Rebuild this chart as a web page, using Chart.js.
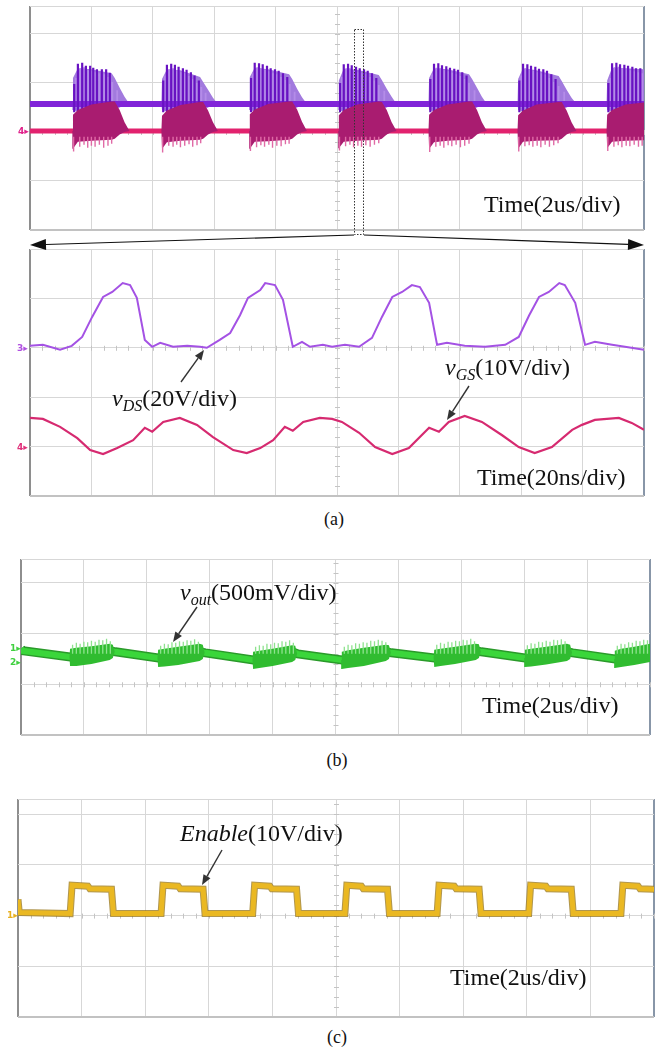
<!DOCTYPE html>
<html>
<head>
<meta charset="utf-8">
<script src="https://cdn.jsdelivr.net/npm/chart.js@4.4.1/dist/chart.umd.min.js"></script>
<style>
  body { margin: 0; background: #fff; }
  #page { position: relative; width: 664px; height: 1051px; overflow: hidden;
          font-family: "Liberation Serif", "Times New Roman", serif; color: #111; }
  canvas { position: absolute; }
  .lbl { position: absolute; font-size: 24px; line-height: 1; white-space: nowrap; transform: translateY(-50%); }
  .lbl i { font-style: italic; }
  .lbl sub { font-size: 16px; font-style: italic; vertical-align: -5px; line-height: 0; }
  .cap { position: absolute; font-size: 18px; line-height: 1; transform: translate(-50%, -50%); }
  .ch { position: absolute; font: bold 9px "DejaVu Sans", sans-serif; line-height: 1; transform: translateY(-50%); }
  svg { position: absolute; left: 0; top: 0; }
</style>
</head>
<body>
<div id="page">
  <canvas id="topChart" width="616" height="226" style="left:29px;top:5px"></canvas>
  <canvas id="zoomChart" width="616" height="249" style="left:29px;top:248px"></canvas>
  <canvas id="outChart" width="631" height="178" style="left:20px;top:558px"></canvas>
  <canvas id="enChart" width="638" height="220" style="left:17px;top:798px"></canvas>

  <div class="lbl" style="left:484px;top:204px">Time(2us/div)</div>
  <div class="lbl" style="left:477px;top:477px">Time(20ns/div)</div>
  <div class="lbl" style="left:112px;top:398px"><i>v</i><sub>DS</sub>(20V/div)</div>
  <div class="lbl" style="left:445px;top:367px"><i>v</i><sub>GS</sub>(10V/div)</div>
  <div class="lbl" style="left:180px;top:592px"><i>v</i><sub>out</sub>(500mV/div)</div>
  <div class="lbl" style="left:482px;top:705px">Time(2us/div)</div>
  <div class="lbl" style="left:180px;top:833px"><i>Enable</i>(10V/div)</div>
  <div class="lbl" style="left:450px;top:977px">Time(2us/div)</div>
  <div class="cap" style="left:334px;top:519px">(a)</div>
  <div class="cap" style="left:337px;top:760px">(b)</div>
  <div class="cap" style="left:337px;top:1037px">(c)</div>

  <div class="ch" style="left:18px;top:131px;color:#e0208a">4▸</div>
  <div class="ch" style="left:17px;top:348px;color:#b050e0">3▸</div>
  <div class="ch" style="left:17px;top:447px;color:#e0307a">4▸</div>
  <div class="ch" style="left:10px;top:648px;color:#40d040">1▸</div>
  <div class="ch" style="left:10px;top:662px;color:#40d040">2▸</div>
  <div class="ch" style="left:7px;top:915px;color:#e8b020">1▸</div>

  <svg id="overlay" width="664" height="1051"></svg>
</div>
<script>
// grid divisions
const gridX = [0, 1, 2, 3, 4, 5, 6, 7, 8, 9, 10];
const yTicksTop = [0, 1, 2, 3, 4, 4.57];
const yTicksZoom = [0, 1, 2, 3, 4, 5];
const yTicksOut = [0, 1, 2, 3, 3.47];
const yTicksEn = [0, 1, 2, 3, 4, 4.3];

// (a) top, 2us/div: burst envelopes (x in div, y in div)
const burstX = [0,
  0.69, 0.70, 0.78, 1.00, 1.33, 1.38, 1.46, 1.54, 1.62,
  2.14, 2.15, 2.23, 2.45, 2.77, 2.82, 2.90, 2.98, 3.06,
  3.57, 3.58, 3.66, 3.88, 4.22, 4.27, 4.35, 4.43, 4.51,
  5.02, 5.03, 5.11, 5.33, 5.68, 5.73, 5.81, 5.89, 5.97,
  6.49, 6.50, 6.58, 6.80, 7.15, 7.20, 7.28, 7.36, 7.44,
  7.94, 7.95, 8.03, 8.25, 8.61, 8.66, 8.74, 8.82, 8.90,
  9.39, 9.40, 9.48, 9.70, 10];
const vdsUpper = [2.57,
  2.57, 3.10, 3.30, 3.28, 3.20, 3.10, 2.90, 2.72, 2.57,
  2.57, 3.08, 3.28, 3.26, 3.12, 3.02, 2.86, 2.70, 2.57,
  2.57, 3.12, 3.31, 3.28, 3.18, 3.08, 2.88, 2.71, 2.57,
  2.57, 3.05, 3.29, 3.27, 3.16, 3.06, 2.88, 2.72, 2.57,
  2.57, 3.10, 3.30, 3.28, 3.18, 3.08, 2.90, 2.72, 2.57,
  2.57, 3.08, 3.30, 3.26, 3.14, 3.04, 2.86, 2.70, 2.57,
  2.57, 3.05, 3.31, 3.30, 3.28];
const vdsLower = [2.57,
  2.57, 2.45, 2.42, 2.42, 2.42, 2.45, 2.50, 2.55, 2.57,
  2.57, 2.45, 2.42, 2.42, 2.43, 2.45, 2.50, 2.55, 2.57,
  2.57, 2.45, 2.42, 2.41, 2.42, 2.45, 2.50, 2.55, 2.57,
  2.57, 2.45, 2.42, 2.42, 2.42, 2.45, 2.50, 2.55, 2.57,
  2.57, 2.45, 2.42, 2.42, 2.43, 2.45, 2.50, 2.55, 2.57,
  2.57, 2.45, 2.42, 2.41, 2.42, 2.45, 2.50, 2.55, 2.57,
  2.57, 2.45, 2.42, 2.42, 2.42];
const vgsUpper = [2.02,
  2.02, 2.35, 2.45, 2.56, 2.62, 2.62, 2.45, 2.20, 2.02,
  2.02, 2.33, 2.44, 2.55, 2.61, 2.61, 2.44, 2.20, 2.02,
  2.02, 2.36, 2.46, 2.57, 2.62, 2.62, 2.46, 2.21, 2.02,
  2.02, 2.34, 2.45, 2.56, 2.62, 2.61, 2.45, 2.20, 2.02,
  2.02, 2.35, 2.45, 2.56, 2.62, 2.62, 2.45, 2.20, 2.02,
  2.02, 2.34, 2.44, 2.56, 2.61, 2.61, 2.44, 2.20, 2.02,
  2.02, 2.35, 2.45, 2.56, 2.60];
const vgsLower = [2.02,
  2.02, 1.66, 1.80, 1.82, 1.84, 1.86, 1.95, 2.00, 2.02,
  2.02, 1.65, 1.79, 1.82, 1.84, 1.86, 1.95, 2.00, 2.02,
  2.02, 1.66, 1.80, 1.81, 1.84, 1.86, 1.95, 2.00, 2.02,
  2.02, 1.67, 1.80, 1.82, 1.84, 1.86, 1.95, 2.00, 2.02,
  2.02, 1.65, 1.79, 1.82, 1.84, 1.86, 1.95, 2.00, 2.02,
  2.02, 1.66, 1.80, 1.82, 1.83, 1.86, 1.95, 2.00, 2.02,
  2.02, 1.67, 1.80, 1.82, 1.83];
const vdsLevel = [[0, 2.57], [10, 2.57]];
const vgsLevel = [[0, 2.02], [10, 2.02]];
const vdsSpikeX = [
  0.72, 0.78, 0.85, 0.91, 0.98, 1.03, 1.09, 1.17, 1.24, 1.30,
  2.17, 2.23, 2.30, 2.36, 2.42, 2.49, 2.55, 2.62, 2.68, 2.75,
  3.60, 3.66, 3.73, 3.79, 3.86, 3.92, 3.99, 4.05, 4.12, 4.19,
  5.05, 5.11, 5.18, 5.24, 5.31, 5.37, 5.44, 5.50, 5.57, 5.64,
  6.52, 6.58, 6.65, 6.71, 6.78, 6.84, 6.91, 6.97, 7.04, 7.11,
  7.97, 8.03, 8.10, 8.16, 8.23, 8.29, 8.36, 8.42, 8.49, 8.56,
  9.42, 9.48, 9.55, 9.61, 9.68, 9.74, 9.81, 9.87, 9.94];
const vdsSpikeTop = [
  2.98, 3.39, 3.41, 3.35, 3.35, 3.31, 3.28, 3.28, 3.28, 3.21,
  3.05, 3.37, 3.39, 3.37, 3.33, 3.30, 3.27, 3.22, 3.15, 3.05,
  3.10, 3.41, 3.40, 3.38, 3.35, 3.30, 3.28, 3.25, 3.20, 3.12,
  3.00, 3.38, 3.39, 3.36, 3.33, 3.30, 3.28, 3.25, 3.20, 3.10,
  3.08, 3.39, 3.40, 3.36, 3.34, 3.31, 3.29, 3.27, 3.22, 3.15,
  3.05, 3.39, 3.38, 3.35, 3.33, 3.29, 3.28, 3.25, 3.18, 3.08,
  3.00, 3.40, 3.41, 3.38, 3.37, 3.35, 3.33, 3.30, 3.30];
// fainter ringing lines between the main spikes
const vdsRingX = [
  0.75, 0.82, 0.88, 0.95, 1.01, 1.06, 1.13, 1.21, 1.27, 1.34, 1.42,
  2.20, 2.27, 2.33, 2.39, 2.46, 2.52, 2.59, 2.65, 2.72, 2.79, 2.86,
  3.63, 3.70, 3.76, 3.83, 3.89, 3.96, 4.02, 4.09, 4.16, 4.23, 4.31,
  5.08, 5.15, 5.21, 5.28, 5.34, 5.41, 5.47, 5.54, 5.61, 5.68, 5.77,
  6.55, 6.62, 6.68, 6.75, 6.81, 6.88, 6.94, 7.01, 7.08, 7.15, 7.24,
  8.00, 8.07, 8.13, 8.20, 8.26, 8.33, 8.39, 8.46, 8.53, 8.61, 8.70,
  9.45, 9.52, 9.58, 9.65, 9.71, 9.78, 9.84, 9.91, 9.97];
const vdsRingTop = [
  3.10, 3.30, 3.32, 3.26, 3.25, 3.22, 3.20, 3.18, 3.12, 3.02, 2.85,
  3.15, 3.28, 3.30, 3.26, 3.22, 3.20, 3.14, 3.08, 3.00, 2.92, 2.80,
  3.20, 3.32, 3.30, 3.27, 3.24, 3.20, 3.18, 3.12, 3.06, 2.98, 2.82,
  3.12, 3.30, 3.30, 3.26, 3.22, 3.20, 3.18, 3.12, 3.05, 2.96, 2.84,
  3.18, 3.31, 3.30, 3.26, 3.24, 3.21, 3.18, 3.14, 3.08, 3.00, 2.85,
  3.15, 3.30, 3.28, 3.25, 3.22, 3.20, 3.17, 3.10, 3.02, 2.94, 2.82,
  3.10, 3.32, 3.33, 3.30, 3.28, 3.26, 3.24, 3.22, 3.20];
const vgsSpikeX = [
  0.71, 0.81, 0.88, 0.94, 1.00, 1.06, 1.13, 1.20, 1.27, 1.33,
  2.16, 2.26, 2.33, 2.39, 2.45, 2.52, 2.59, 2.65, 2.72, 2.78,
  3.59, 3.69, 3.76, 3.82, 3.89, 3.95, 4.02, 4.09, 4.16, 4.22,
  5.04, 5.14, 5.21, 5.27, 5.34, 5.40, 5.47, 5.54, 5.61, 5.68,
  6.51, 6.61, 6.68, 6.74, 6.81, 6.87, 6.94, 7.01, 7.08, 7.15,
  7.96, 8.06, 8.13, 8.19, 8.26, 8.32, 8.39, 8.46, 8.53, 8.60,
  9.41, 9.51, 9.58, 9.64, 9.71, 9.77, 9.84, 9.91, 9.97];
const vgsSpikeLow = [
  1.60, 1.70, 1.74, 1.68, 1.72, 1.70, 1.74, 1.68, 1.72, 1.76,
  1.58, 1.72, 1.70, 1.74, 1.69, 1.72, 1.75, 1.70, 1.73, 1.77,
  1.61, 1.69, 1.73, 1.70, 1.74, 1.68, 1.72, 1.71, 1.75, 1.76,
  1.62, 1.71, 1.74, 1.69, 1.72, 1.70, 1.73, 1.70, 1.74, 1.77,
  1.59, 1.70, 1.72, 1.68, 1.73, 1.71, 1.74, 1.69, 1.72, 1.76,
  1.60, 1.71, 1.73, 1.70, 1.72, 1.69, 1.74, 1.70, 1.73, 1.77,
  1.61, 1.70, 1.73, 1.69, 1.72, 1.71, 1.74, 1.70, 1.72];

// (a) zoom, 20ns/div
const vdsZoom = [[0, 3.04], [0.21, 3.06], [0.49, 2.96], [0.68, 3.04], [0.85, 3.22], [1.01, 3.62],
  [1.19, 4.03], [1.34, 4.13], [1.51, 4.31], [1.63, 4.27], [1.74, 4.01], [1.87, 3.16], [1.99, 3.02],
  [2.12, 3.10], [2.33, 3.02], [2.56, 3.04], [2.77, 3.02], [2.88, 3.00], [3.09, 3.16], [3.26, 3.30],
  [3.42, 3.66], [3.55, 4.01], [3.75, 4.17], [3.83, 4.31], [3.99, 4.27], [4.12, 3.97], [4.28, 3.02],
  [4.43, 3.12], [4.56, 3.02], [4.77, 3.06], [4.92, 3.02], [5.13, 3.06], [5.36, 3.02], [5.57, 3.20],
  [5.73, 3.62], [5.90, 4.03], [6.06, 4.13], [6.22, 4.27], [6.35, 4.23], [6.50, 3.91], [6.63, 3.06],
  [6.79, 3.10], [7.08, 3.04], [7.41, 3.02], [7.74, 3.06], [7.96, 3.22], [8.13, 3.66], [8.29, 4.03],
  [8.45, 4.13], [8.62, 4.31], [8.71, 4.27], [8.88, 3.91], [9.04, 3.06], [9.20, 3.12], [9.48, 3.06],
  [9.69, 3.02], [10, 2.96]];
const vgsZoom = [[0, 1.58], [0.21, 1.56], [0.49, 1.40], [0.77, 1.17], [0.98, 0.93], [1.19, 0.85],
  [1.42, 0.97], [1.68, 1.13], [1.87, 1.38], [1.99, 1.30], [2.17, 1.50], [2.44, 1.58], [2.72, 1.44],
  [2.98, 1.19], [3.31, 0.93], [3.53, 0.87], [3.75, 0.97], [3.96, 1.13], [4.15, 1.40], [4.28, 1.32],
  [4.45, 1.50], [4.72, 1.58], [4.92, 1.56], [5.08, 1.50], [5.36, 1.28], [5.62, 0.99], [5.90, 0.85],
  [6.17, 0.97], [6.50, 1.38], [6.66, 1.30], [6.82, 1.50], [7.08, 1.62], [7.36, 1.50], [7.69, 1.23],
  [7.96, 0.99], [8.22, 0.87], [8.50, 0.99], [8.83, 1.34], [8.99, 1.44], [9.20, 1.54], [9.59, 1.58],
  [9.80, 1.48], [10, 1.34]];

// (b) output voltage, 2us/div
const voutMid = [[0, 1.70], [0.03, 1.66], [0.78, 1.54], [1.12, 1.58], [1.46, 1.65], [1.50, 1.64],
  [2.18, 1.52], [2.50, 1.56], [2.89, 1.63], [2.93, 1.62], [3.69, 1.48], [4.00, 1.53], [4.36, 1.62],
  [4.40, 1.60], [5.10, 1.48], [5.45, 1.54], [5.85, 1.63], [5.89, 1.62], [6.57, 1.52], [6.90, 1.57],
  [7.28, 1.65], [7.32, 1.64], [8.01, 1.52], [8.35, 1.56], [8.73, 1.63], [8.77, 1.62], [9.44, 1.50],
  [9.75, 1.56], [10, 1.62]];
const voutBurstX = [0,
  0.77, 0.78, 0.88, 1.12, 1.41, 1.46, 1.49,
  2.17, 2.18, 2.28, 2.50, 2.84, 2.89, 2.92,
  3.68, 3.69, 3.79, 4.00, 4.31, 4.36, 4.39,
  5.09, 5.10, 5.20, 5.45, 5.80, 5.85, 5.88,
  6.56, 6.57, 6.67, 6.90, 7.23, 7.28, 7.31,
  8.00, 8.01, 8.11, 8.35, 8.68, 8.73, 8.76,
  9.43, 9.44, 9.54, 9.75, 10];
const voutUpper = [1.70,
  1.54, 1.70, 1.72, 1.75, 1.80, 1.78, 1.64,
  1.52, 1.68, 1.70, 1.74, 1.80, 1.78, 1.62,
  1.48, 1.64, 1.66, 1.70, 1.77, 1.76, 1.60,
  1.48, 1.64, 1.67, 1.72, 1.78, 1.77, 1.62,
  1.52, 1.68, 1.70, 1.74, 1.80, 1.79, 1.64,
  1.52, 1.68, 1.70, 1.74, 1.80, 1.78, 1.62,
  1.50, 1.66, 1.70, 1.74, 1.80];
const voutLower = [1.70,
  1.54, 1.36, 1.36, 1.40, 1.48, 1.52, 1.64,
  1.52, 1.34, 1.35, 1.38, 1.46, 1.50, 1.62,
  1.48, 1.30, 1.32, 1.36, 1.44, 1.48, 1.60,
  1.48, 1.30, 1.32, 1.36, 1.46, 1.50, 1.62,
  1.52, 1.34, 1.36, 1.40, 1.48, 1.52, 1.64,
  1.52, 1.34, 1.35, 1.39, 1.46, 1.50, 1.62,
  1.50, 1.32, 1.34, 1.38, 1.44];
const voutSpikeX = [
  0.82, 0.88, 0.94, 1.00, 1.06, 1.12, 1.18, 1.24, 1.30, 1.36, 1.42,
  2.22, 2.28, 2.34, 2.40, 2.46, 2.52, 2.58, 2.64, 2.70, 2.76, 2.82,
  3.73, 3.79, 3.85, 3.91, 3.97, 4.03, 4.09, 4.15, 4.21, 4.27, 4.33,
  5.14, 5.20, 5.26, 5.32, 5.38, 5.44, 5.50, 5.56, 5.62, 5.68, 5.74, 5.80,
  6.61, 6.67, 6.73, 6.79, 6.85, 6.91, 6.97, 7.03, 7.09, 7.15, 7.21,
  8.05, 8.11, 8.17, 8.23, 8.29, 8.35, 8.41, 8.47, 8.53, 8.59, 8.65,
  9.48, 9.54, 9.60, 9.66, 9.72, 9.78, 9.84, 9.90, 9.96];
const voutSpikeTop = [
  1.78, 1.82, 1.80, 1.84, 1.83, 1.86, 1.84, 1.88, 1.87, 1.90, 1.85,
  1.76, 1.80, 1.79, 1.83, 1.82, 1.85, 1.84, 1.87, 1.86, 1.89, 1.84,
  1.74, 1.77, 1.76, 1.80, 1.79, 1.82, 1.81, 1.85, 1.84, 1.87, 1.82,
  1.74, 1.78, 1.77, 1.81, 1.80, 1.83, 1.82, 1.86, 1.85, 1.88, 1.86, 1.83,
  1.78, 1.82, 1.80, 1.84, 1.83, 1.86, 1.85, 1.88, 1.87, 1.90, 1.85,
  1.77, 1.81, 1.80, 1.84, 1.83, 1.86, 1.84, 1.88, 1.87, 1.89, 1.85,
  1.76, 1.80, 1.79, 1.83, 1.82, 1.86, 1.85, 1.88, 1.87];

// (c) enable signal, 2us/div
const enable = [[0, 2.32], [0.02, 2.06],
  [0.82, 2.04], [0.85, 2.60], [1.10, 2.58], [1.13, 2.53], [1.47, 2.52], [1.50, 2.04],
  [2.25, 2.04], [2.28, 2.60], [2.52, 2.58], [2.55, 2.53], [2.91, 2.52], [2.94, 2.04],
  [3.69, 2.04], [3.72, 2.60], [3.96, 2.58], [3.99, 2.53], [4.38, 2.52], [4.41, 2.04],
  [5.14, 2.04], [5.17, 2.60], [5.40, 2.58], [5.43, 2.53], [5.81, 2.52], [5.84, 2.04],
  [6.59, 2.04], [6.62, 2.60], [6.86, 2.58], [6.89, 2.53], [7.25, 2.52], [7.28, 2.04],
  [8.03, 2.04], [8.06, 2.60], [8.30, 2.58], [8.33, 2.53], [8.70, 2.52], [8.73, 2.04],
  [9.48, 2.04], [9.51, 2.60], [9.75, 2.58], [9.78, 2.53], [10, 2.52]];

const pairs = arr => arr.map(([x, y]) => ({ x, y }));
const zipXY = (xs, ys) => xs.map((x, i) => ({ x, y: ys[i] }));
const spikes = (xs, ends, base) =>
  xs.flatMap((x, i) => [{ x, y: base }, { x, y: ends[i] }, { x, y: null }]);

function line(data, color, width, extra) {
  return Object.assign({ data, borderColor: color, borderWidth: width, pointRadius: 0,
    fill: false, tension: 0, borderJoinStyle: 'miter' }, extra || {});
}

// small ticks on the centre lines, like on the scope screen
const scopeTicks = {
  id: 'scopeTicks',
  beforeDatasetsDraw(chart, args, opts) {
    const { ctx, scales: { x, y } } = chart;
    ctx.save();
    ctx.strokeStyle = '#c4c4c4';
    ctx.lineWidth = 1;
    const cx = x.getPixelForValue(5), cy = y.getPixelForValue(opts.cy);
    ctx.beginPath();
    for (let v = 0.2; v < 10; v += 0.2) {
      const px = Math.round(x.getPixelForValue(v)) + 0.5;
      ctx.moveTo(px, cy - 2); ctx.lineTo(px, cy + 3);
    }
    for (let v = 0.2; v < y.max; v += 0.2) {
      const py = Math.round(y.getPixelForValue(v)) + 0.5;
      ctx.moveTo(cx - 2, py); ctx.lineTo(cx + 3, py);
    }
    ctx.stroke();
    ctx.restore();
  }
};

function scope(id, ymax, yTicks, cy, datasets) {
  const n = datasets.length;
  datasets.forEach((d, i) => { d.order = n - i; });
  const xGrid = {
    drawTicks: false,
    color: c => c.tick.value === 0 ? '#8e8e8e' : (c.tick.value === 10 ? '#8896a8' : '#d7d7d7'),
    lineWidth: c => (c.tick.value === 0 || c.tick.value === 10) ? 2 : 1
  };
  const yGrid = {
    drawTicks: false,
    color: c => c.tick.value === 0 ? '#c2c2c2' : '#d7d7d7',
    lineWidth: c => c.tick.value === 0 ? 2 : 1
  };
  return new Chart(document.getElementById(id), {
    type: 'line',
    data: { datasets },
    options: {
      responsive: false,
      animation: false,
      events: [],
      layout: { padding: 1 },
      plugins: { legend: { display: false }, tooltip: { enabled: false }, scopeTicks: { cy } },
      scales: {
        x: { type: 'linear', min: 0, max: 10, ticks: { display: false }, grid: xGrid,
             border: { display: false },
             afterBuildTicks: s => { s.ticks = gridX.map(v => ({ value: v })); } },
        y: { type: 'linear', min: 0, max: ymax, ticks: { display: false }, grid: yGrid,
             border: { display: false },
             afterBuildTicks: s => { s.ticks = yTicks.map(v => ({ value: v })); } }
      }
    },
    plugins: [scopeTicks]
  });
}

const clear = 'rgba(0,0,0,0)';

scope('topChart', 4.57, yTicksTop, 2, [
  line(zipXY(burstX, vdsLower), clear, 1),
  line(zipXY(burstX, vdsUpper), clear, 1, { fill: 0, backgroundColor: '#a27ade' }),
  line(spikes(vdsRingX, vdsRingTop, 2.5), '#b48ce8', 1.8),
  line(pairs(vdsLevel), '#8124d8', 6),
  line(spikes(vdsSpikeX, vdsSpikeTop, 2.4), '#6812c2', 2.2),
  line(pairs(vgsLevel), '#e2226e', 5),
  line(zipXY(burstX, vgsLower), clear, 1),
  line(zipXY(burstX, vgsUpper), clear, 1, { fill: 6, backgroundColor: '#a91c70' }),
  line(spikes(vgsSpikeX, vgsSpikeLow, 1.9), '#e06aa6', 1.4)
]);

scope('zoomChart', 5, yTicksZoom, 3, [
  line(pairs(vdsZoom), '#a452e4', 2),
  line(pairs(vgsZoom), '#d62a70', 2.2)
]);

scope('outChart', 3.47, yTicksOut, 1, [
  line(pairs(voutMid), '#2a9a2a', 9),
  line(pairs(voutMid), '#3ad63a', 6),
  line(zipXY(voutBurstX, voutLower), clear, 1),
  line(zipXY(voutBurstX, voutUpper), clear, 1, { fill: 2, backgroundColor: '#30bc30' }),
  line(spikes(voutSpikeX, voutSpikeTop, 1.6), '#8ee28e', 1.3)
]);

scope('enChart', 4.3, yTicksEn, 2, [
  line(pairs(enable), 'rgba(150,115,20,0.75)', 7),
  line(pairs(enable), '#eab822', 5)
]);

// annotation arrows and the zoom window
const svg = document.getElementById('overlay');
const NS = 'http://www.w3.org/2000/svg';
function el(tag, attrs) {
  const e = document.createElementNS(NS, tag);
  for (const k in attrs) e.setAttribute(k, attrs[k]);
  svg.appendChild(e);
  return e;
}
function arrow(x1, y1, x2, y2, len, half, color, w) {
  const dx = x2 - x1, dy = y2 - y1, d = Math.hypot(dx, dy);
  const ux = dx / d, uy = dy / d;
  const bx = x2 - ux * len, by = y2 - uy * len;
  el('line', { x1, y1, x2: bx, y2: by, stroke: color, 'stroke-width': w });
  el('polygon', { points: `${x2},${y2} ${bx - uy * half},${by + ux * half} ${bx + uy * half},${by - ux * half}`, fill: color });
}
el('rect', { x: 354.5, y: 29.5, width: 9, height: 205, fill: 'none', stroke: '#333', 'stroke-width': 1, 'stroke-dasharray': '1.5 1.5' });
arrow(354, 235, 30, 245, 16, 5.5, '#111', 1.2);
arrow(364, 235, 644, 245, 16, 5.5, '#111', 1.2);
arrow(181, 382, 204, 350, 10, 4, '#333', 1.4);
arrow(469, 386, 447, 420, 10, 4, '#333', 1.4);
arrow(197, 607, 173, 642, 10, 4, '#333', 1.4);
arrow(222, 850, 202, 885, 10, 4, '#333', 1.4);
</script>
</body>
</html>
